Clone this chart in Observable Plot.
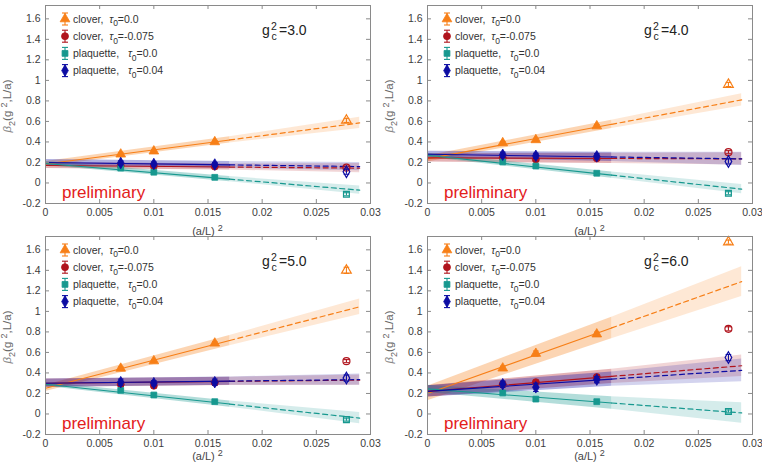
<!DOCTYPE html>
<html>
<head>
<meta charset="utf-8">
<script src="https://cdn.jsdelivr.net/npm/d3@7"></script>
<script src="https://cdn.jsdelivr.net/npm/@observablehq/plot@0.6"></script>
<style>
  body { margin: 0; background: #fff; }
  #wrap { position: relative; width: 762px; height: 470px; overflow: hidden; }
  .panel { position: absolute; }
  .panel svg { overflow: visible; display: block; }
</style>
</head>
<body>
<div id="wrap"></div>
<script>
// (a/L)^2 for L/a = 12, 10, 8, 6
const aL2 = [0.006944, 0.01, 0.015625, 0.027778];
// fit range: solid part up to 0.017, dashed extension to 0.029
const fitEdges = [0, 0.017, 0.029];

const gc2Labels = ["3.0", "4.0", "5.0", "6.0"];
const xTicks = [0, 0.005, 0.01, 0.015, 0.02, 0.025, 0.03];
const xTickLabels = ["0", "0.005", "0.01", "0.015", "0.02", "0.025", "0.03"];
const yTicks = [-0.2, 0, 0.2, 0.4, 0.6, 0.8, 1, 1.2, 1.4, 1.6];
const yTickLabels = ["-0.2", "0", "0.2", "0.4", "0.6", "0.8", "1", "1.2", "1.4", "1.6"];

const legendNames = ["clover,", "clover,", "plaquette,", "plaquette,"];
const legendTau = ["=0.0", "=-0.075", "=0.0", "=0.04"];

// beta_2 values per panel (g_c^2 = 3,4,5,6), at L/a = 12,10,8,6
const cloverT0 = [[0.28, 0.31, 0.40, 0.61], [0.39, 0.42, 0.555, 0.96], [0.444, 0.516, 0.689, 1.40], [0.446, 0.589, 0.778, 1.675]];
const cloverT0Err = [[0.015, 0.015, 0.015, 0.02], [0.015, 0.015, 0.015, 0.02], [0.015, 0.015, 0.015, 0.03], [0.02, 0.025, 0.02, 0.02]];
const cloverTm = [[0.17, 0.165, 0.16, 0.15], [0.245, 0.23, 0.24, 0.30], [0.29, 0.275, 0.305, 0.515], [0.29, 0.31, 0.36, 0.83]];
const cloverTmErr = [[0.01, 0.01, 0.01, 0.015], [0.015, 0.015, 0.015, 0.015], [0.02, 0.02, 0.02, 0.015], [0.02, 0.02, 0.02, 0.02]];
const plaqT0 = [[0.145, 0.105, 0.055, -0.11], [0.205, 0.165, 0.095, -0.10], [0.23, 0.185, 0.12, -0.055], [0.205, 0.145, 0.12, 0.025]];
const plaqT0Err = [[0.01, 0.01, 0.01, 0.015], [0.015, 0.015, 0.01, 0.015], [0.015, 0.015, 0.01, 0.015], [0.01, 0.015, 0.01, 0.015]];
const plaqT04 = [[0.195, 0.185, 0.18, 0.11], [0.275, 0.265, 0.26, 0.21], [0.31, 0.30, 0.31, 0.35], [0.29, 0.26, 0.335, 0.55]];
const plaqT04Err = [[0.02, 0.02, 0.02, 0.025], [0.025, 0.025, 0.025, 0.025], [0.03, 0.025, 0.03, 0.03], [0.03, 0.04, 0.03, 0.03]];

// linear fits: value at (a/L)^2 = 0 and at 0.029
const cloverT0Fit = [[0.185, 0.585], [0.235, 0.81], [0.25, 1.045], [0.20, 1.29]];
const cloverTmFit = [[0.17, 0.145], [0.245, 0.235], [0.30, 0.33], [0.22, 0.47]];
const plaqT0Fit = [[0.19, -0.07], [0.27, -0.06], [0.29, -0.04], [0.245, 0.01]];
const plaqT04Fit = [[0.20, 0.16], [0.28, 0.235], [0.30, 0.335], [0.22, 0.425]];

// error band half widths at fitEdges
const cloverT0Band = [[0.025, 0.03, 0.055], [0.03, 0.04, 0.06], [0.03, 0.05, 0.075], [0.07, 0.105, 0.145]];
const cloverTmBand = [[0.03, 0.03, 0.045], [0.04, 0.05, 0.06], [0.04, 0.04, 0.05], [0.055, 0.07, 0.105]];
const plaqT0Band = [[0.02, 0.025, 0.04], [0.02, 0.03, 0.045], [0.02, 0.03, 0.055], [0.035, 0.06, 0.1]];
const plaqT04Band = [[0.03, 0.033, 0.04], [0.03, 0.045, 0.065], [0.04, 0.04, 0.055], [0.055, 0.07, 0.11]];

const colors = ["#f77f17", "#b0141d", "#17988f", "#0c0ca3"];
const symbols = ["triangle", "circle", "square", "diamond"];
const symbolR = [3.6, 3.5, 3.3, 3.5];
const d3Symbols = [d3.symbolTriangle, d3.symbolCircle, d3.symbolSquare, d3.symbolDiamond];

const W = 378, H = 235, ML = 45, MR = 8, MT = 5, MB = 32;
const PW = W - ML - MR, PH = H - MT - MB;
const panelPos = [[0, 0], [382, 0], [0, 231], [382, 231]];
const xLabelBase = [235, 235, 229, 229];
const FONT = "'Liberation Sans', Arial, Helvetica, sans-serif";

const capSymbol = {
  draw(ctx, size) {
    const w = Math.sqrt(size / Math.PI);
    ctx.moveTo(-w, 0);
    ctx.lineTo(w, 0);
  }
};

const lineAt = (fit, x) => fit[0] + (fit[1] - fit[0]) * x / fitEdges[2];

function makePanel(p) {
  const series = [
    {vals: cloverT0[p], errs: cloverT0Err[p], fit: cloverT0Fit[p], hw: cloverT0Band[p]},
    {vals: cloverTm[p], errs: cloverTmErr[p], fit: cloverTmFit[p], hw: cloverTmBand[p]},
    {vals: plaqT0[p], errs: plaqT0Err[p], fit: plaqT0Fit[p], hw: plaqT0Band[p]},
    {vals: plaqT04[p], errs: plaqT04Err[p], fit: plaqT04Fit[p], hw: plaqT04Band[p]}
  ].map((s, i) => ({...s, color: colors[i], symbol: symbols[i], r: symbolR[i]}));

  const bandMarks = [], lineMarks = [], pointMarks = [];
  for (const s of series) {
    const nodes = fitEdges.map((x, k) => {
      const y = lineAt(s.fit, x);
      return {x, y, lo: y - s.hw[k], hi: y + s.hw[k]};
    });
    bandMarks.push(Plot.areaY(nodes.slice(0, 2), {x: "x", y1: "lo", y2: "hi", fill: s.color, fillOpacity: 0.33}));
    bandMarks.push(Plot.areaY(nodes.slice(1), {x: "x", y1: "lo", y2: "hi", fill: s.color, fillOpacity: 0.18}));
    lineMarks.push(Plot.line(nodes.slice(0, 2), {x: "x", y: "y", stroke: s.color, strokeWidth: 1.1}));
    lineMarks.push(Plot.line(nodes.slice(1), {x: "x", y: "y", stroke: s.color, strokeWidth: 1.2, strokeDasharray: "5,3.5"}));

    const pts = s.vals.map((v, k) => ({x: aL2[k], v, e: s.errs[k], used: k < 3}));
    pointMarks.push(Plot.ruleX(pts, {x: "x", y1: d => d.v - d.e, y2: d => d.v + d.e, stroke: s.color, strokeWidth: 1.1}));
    pointMarks.push(Plot.dot(pts, {x: "x", y: d => d.v - d.e, symbol: capSymbol, r: 2.8, stroke: s.color, fill: "none", strokeWidth: 1.1}));
    pointMarks.push(Plot.dot(pts, {x: "x", y: d => d.v + d.e, symbol: capSymbol, r: 2.8, stroke: s.color, fill: "none", strokeWidth: 1.1}));
    pointMarks.push(Plot.dot(pts.filter(d => d.used), {x: "x", y: "v", symbol: s.symbol, r: s.r, fill: s.color, stroke: s.color, strokeWidth: 0.8}));
    pointMarks.push(Plot.dot(pts.filter(d => !d.used), {x: "x", y: "v", symbol: s.symbol, r: s.r, fill: "none", stroke: s.color, strokeWidth: 1.2}));
  }

  const tickColor = "#8a8a8a";
  const svg = Plot.plot({
    width: W, height: H,
    marginLeft: ML, marginRight: MR, marginTop: MT, marginBottom: MB,
    style: {background: "transparent", fontFamily: FONT, fontSize: "10.5px", color: "#3c3c3c", overflow: "visible"},
    x: {domain: [0, 0.03], ticks: xTicks, tickFormat: (d, i) => xTickLabels[i], tickSize: 0, tickPadding: 5, label: null},
    y: {domain: [-0.2, 1.73], ticks: yTicks, tickFormat: (d, i) => yTickLabels[i], tickSize: 0, tickPadding: 5, label: null},
    marks: [
      ...bandMarks,
      ...lineMarks,
      ...pointMarks,
      // inward ticks on all four sides
      Plot.ruleX(xTicks, {x: d => d, insetTop: PH - 4, stroke: tickColor}),
      Plot.ruleX(xTicks, {x: d => d, insetBottom: PH - 4, stroke: tickColor}),
      Plot.ruleY(yTicks, {y: d => d, insetRight: PW - 4, stroke: tickColor}),
      Plot.ruleY(yTicks, {y: d => d, insetLeft: PW - 4, stroke: tickColor}),
      Plot.frame({stroke: tickColor, strokeWidth: 1})
    ]
  });

  const s = d3.select(svg);
  const g = s.append("g").attr("font-family", FONT).attr("text-anchor", "start");

  // legend
  legendNames.forEach((name, i) => {
    const y = 19 + i * 17.2;
    const m = g.append("g").attr("transform", `translate(65,${y})`).attr("stroke", colors[i]).attr("fill", colors[i]);
    m.append("line").attr("x1", 0).attr("x2", 0).attr("y1", -6).attr("y2", 6).attr("stroke-width", 1.1);
    m.append("line").attr("x1", -3).attr("x2", 3).attr("y1", -6).attr("y2", -6).attr("stroke-width", 1.1);
    m.append("line").attr("x1", -3).attr("x2", 3).attr("y1", 6).attr("y2", 6).attr("stroke-width", 1.1);
    m.append("path").attr("d", d3.symbol(d3Symbols[i], Math.PI * symbolR[i] ** 2)()).attr("stroke-width", 0.8);
    const t = g.append("text").attr("x", 73).attr("y", y + 3.8).attr("font-size", 10.5).attr("fill", "#333");
    t.append("tspan").text(name + (i < 2 ? "\u00a0\u00a0" : "\u00a0\u00a0\u00a0"));
    t.append("tspan").attr("font-style", "italic").text("τ");
    t.append("tspan").attr("dy", 3.5).attr("font-size", 8.5).text("0");
    t.append("tspan").attr("dy", -3.5).text(legendTau[i]);
  });

  // coupling label g_c^2 = ...
  const gl = g.append("g").attr("fill", "#222");
  gl.append("text").attr("x", 262).attr("y", 34.5).attr("font-size", 14).text("g");
  gl.append("text").attr("x", 271).attr("y", 29.5).attr("font-size", 10.5).text("2");
  gl.append("text").attr("x", 271.5).attr("y", 40).attr("font-size", 10.5).text("c");
  gl.append("text").attr("x", 279).attr("y", 34.5).attr("font-size", 14).text("=" + gc2Labels[p]);

  // preliminary stamp
  g.append("text").attr("x", 62).attr("y", 198).attr("font-size", 17).attr("fill", "#e3201b").text("preliminary");

  // x axis label
  const xl = g.append("text").attr("x", ML + PW / 2).attr("y", xLabelBase[p]).attr("text-anchor", "middle")
    .attr("font-size", 11).attr("fill", "#444");
  xl.append("tspan").text("(a/L)\u00a0");
  xl.append("tspan").attr("dy", -4).attr("font-size", 9).text("2");

  // y axis label
  const yl = g.append("text").attr("transform", `translate(11,${MT + PH / 2 + 2}) rotate(-90)`).attr("text-anchor", "middle")
    .attr("font-size", 11.5).attr("fill", "#666");
  yl.append("tspan").attr("font-style", "italic").attr("fill", "#888").text("β");
  yl.append("tspan").attr("dy", 3.5).attr("font-size", 9).text("2");
  yl.append("tspan").attr("dy", -3.5).text("(g\u00a0");
  yl.append("tspan").attr("dy", -4.5).attr("font-size", 9).text("2");
  yl.append("tspan").attr("dy", 4.5).text(",L/a)");

  const div = document.createElement("div");
  div.className = "panel";
  div.style.left = panelPos[p][0] + "px";
  div.style.top = panelPos[p][1] + "px";
  div.appendChild(svg);
  return div;
}

const wrap = document.getElementById("wrap");
// bottom row first so the top row's axis labels stay visible
[2, 3, 0, 1].forEach(p => wrap.appendChild(makePanel(p)));
</script>
</body>
</html>
